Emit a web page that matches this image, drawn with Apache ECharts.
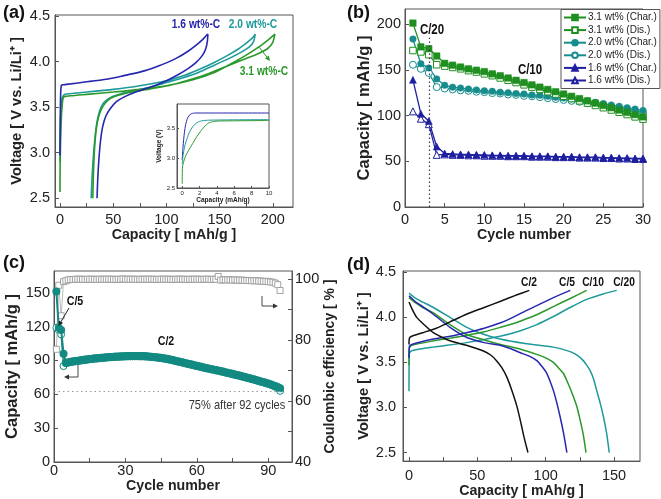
<!DOCTYPE html>
<html><head><meta charset="utf-8">
<script src="https://cdn.jsdelivr.net/npm/echarts@6/dist/echarts.min.js"></script>
<style>html,body{margin:0;padding:0;background:#fff}#c{width:661px;height:499px}</style>
</head><body><div id="c"></div>
<script>
// ---------- Panel (a): voltage profiles [capacity mAh/g, V] ----------
const a16Chg = [[0,2.97],[0.2,3.35],[0.5,3.6],[0.9,3.71],[1.4,3.74],[3,3.745],[10,3.755],[20,3.77],[30,3.785],[40,3.8],[50,3.82],[60,3.845],[70,3.87],[80,3.9],[90,3.94],[100,3.985],[110,4.04],[120,4.11],[128,4.18],[134,4.24],[138,4.29],[139,4.3]];
const a16Dis = [[139,4.3],[138.5,4.22],[137,4.14],[134,4.07],[128,3.99],[120,3.92],[110,3.85],[100,3.79],[90,3.74],[80,3.7],[70,3.66],[60,3.61],[53,3.56],[47,3.48],[43,3.4],[40,3.28],[38,3.12],[36.5,2.92],[35.5,2.72],[34.8,2.5]];
const a20Chg = [[0,2.9],[0.2,3.15],[0.5,3.35],[0.9,3.48],[1.4,3.56],[2,3.6],[3,3.625],[5,3.64],[15,3.655],[25,3.665],[50,3.695],[75,3.735],[100,3.79],[115,3.84],[130,3.91],[145,3.99],[158,4.07],[168,4.14],[176,4.21],[181,4.26],[183.5,4.3]];
const a20Dis = [[183.5,4.3],[182,4.22],[178,4.16],[170,4.1],[160,4.04],[145,3.96],[130,3.88],[115,3.82],[100,3.77],[85,3.72],[70,3.68],[58,3.65],[50,3.62],[44,3.58],[40,3.53],[37,3.45],[34.5,3.32],[32.5,3.12],[31,2.9],[30,2.7],[29.3,2.5]];
const a31Chg = [[0,2.57],[0.1,2.85],[0.5,3.1],[1,3.3],[1.5,3.43],[2,3.51],[2.5,3.57],[3,3.6],[4,3.615],[10,3.625],[25,3.64],[50,3.665],[75,3.695],[100,3.735],[125,3.8],[145,3.88],[160,3.97],[175,4.07],[187,4.16],[196,4.24],[202,4.3]];
const a31Dis = [[202,4.3],[200,4.21],[195,4.14],[185,4.08],[170,4.01],[155,3.94],[140,3.87],[125,3.81],[110,3.76],[95,3.72],[80,3.69],[65,3.66],[55,3.63],[48,3.6],[43,3.55],[39,3.48],[36,3.38],[34,3.25],[32.5,3.05],[31.5,2.8],[30.8,2.5]];
// inset (first mAh/g)
const i16 = [[0,2.97],[0.1,3.2],[0.25,3.42],[0.4,3.56],[0.6,3.66],[0.8,3.71],[1.1,3.74],[1.5,3.75],[3,3.75],[10,3.75]];
const i20 = [[0,2.9],[0.1,3.05],[0.3,3.2],[0.5,3.3],[0.8,3.42],[1.2,3.52],[1.6,3.58],[2,3.61],[2.5,3.625],[3,3.63],[5,3.635],[10,3.64]];
const i31 = [[0,2.57],[0.03,2.85],[0.3,3.0],[0.7,3.12],[1.2,3.24],[1.7,3.36],[2.2,3.46],[2.6,3.53],[3,3.58],[3.5,3.605],[4,3.615],[6,3.62],[10,3.625]];

// ---------- Panel (b): cycling ----------
const cycB = [1,2,3,4,5,6,7,8,9,10,11,12,13,14,15,16,17,18,19,20,21,22,23,24,25,26,27,28,29,30];
const b31Chg = [201,175,173,165,157,155,153,151,149.5,148,145.5,143.5,141,138.5,136,133.5,131,128.5,126,123.5,121,118.5,116,113.5,111,108.5,106,103.5,101,98.5];
const b31Dis = [171,169.5,166.5,155.5,154,152.5,151,149,147.5,145.5,143.5,141,138.5,136,133.5,131,128.5,126,123.5,121,118.5,116,113.5,111,108.5,106,103.5,101,98.5,96];
const b20Chg = [183.5,156.5,152,140,133,131,130,129,128,127,126.5,125.5,125,124,123.5,122.5,122,121,120,119,118,117,116,114.5,113,111.5,110,108.5,107,105.5];
const b20Dis = [155.5,151,146.5,131,129.5,128.5,127.5,127,126,125.5,124.5,124,123,122.5,121.5,121,120,119,118,117,116,115,113.5,112.5,111,109.5,108,106.5,105,103];
const b16Chg = [139,102,94,66,58.5,58,57.5,57.5,57,57,56.5,56.5,56,56,56,55.5,55.5,55.5,55,55,55,54.5,54.5,54.5,54,54,53.5,53.5,53,53];
const b16Dis = [104.5,96.5,90.5,57,57.5,57,57,56.5,56.5,56,56,56,55.5,55.5,55.5,55,55,55,54.5,54.5,54.5,54,54,54,53.5,53.5,53,53,52.5,52.5];
const legendNames = ['3.1 wt% (Char.)','3.1 wt% (Dis.)','2.0 wt% (Char.)','2.0 wt% (Dis.)','1.6 wt% (Char.)','1.6 wt% (Dis.)'];

// ---------- Panel (c): long cycling ----------
const cycC = [1,2,3,4,5,6,7,8,9,10,11,12,13,14,15,16,17,18,19,20,21,22,23,24,25,26,27,28,29,30,31,32,33,34,35,36,37,38,39,40,41,42,43,44,45,46,47,48,49,50,51,52,53,54,55,56,57,58,59,60,61,62,63,64,65,66,67,68,69,70,71,72,73,74,75,76,77,78,79,80,81,82,83,84,85,86,87,88,89,90,91,92,93,94,95];
const cChg = [151,119,117,96,88,88.4,88.8,89.2,89.5,89.8,
 90.1,90.4,90.7,91.0,91.3,91.5,91.8,92.0,92.2,92.4,
 92.6,92.8,93.0,93.1,93.3,93.4,93.5,93.6,93.7,93.8,
 93.9,93.9,94.0,94.0,94.0,93.9,93.9,93.8,93.7,93.5,
 93.3,93.1,92.9,92.6,92.3,92.0,91.6,91.2,90.8,90.3,
 89.8,89.3,88.8,88.3,87.8,87.3,86.8,86.3,85.8,85.3,
 84.8,84.3,83.8,83.3,82.9,82.4,82.0,81.5,81.1,80.6,
 80.1,79.6,79.1,78.6,78.1,77.6,77.1,76.6,76.0,75.5,
 74.9,74.4,73.8,73.2,72.6,72.0,71.4,70.8,70.2,69.5,
 68.8,68.1,67.3,66.4,65.4];
const cDis = [119,117,113,85,87.5,88.0,88.4,88.8,89.1,89.4,
 89.7,90.0,90.3,90.6,90.9,91.1,91.4,91.6,91.8,92.0,
 92.2,92.4,92.6,92.7,92.9,93.0,93.1,93.2,93.3,93.4,
 93.5,93.5,93.6,93.6,93.6,93.5,93.5,93.4,93.3,93.1,
 92.9,92.7,92.5,92.2,91.9,91.6,91.2,90.8,90.4,89.9,
 89.4,88.9,88.4,87.9,87.4,86.9,86.4,85.9,85.4,84.9,
 84.4,83.9,83.4,82.9,82.5,82.0,81.6,81.1,80.7,80.2,
 79.7,79.2,78.7,78.2,77.7,77.2,76.7,76.2,75.6,75.1,
 74.5,74.0,73.4,72.8,72.2,71.6,71.0,70.4,69.8,69.1,
 68.4,67.6,66.6,65.2,63.0];
const cCE = [77,98,88,99.2,99.5,99.8,99.9,99.9,100,100,
 100,100,99.9,100,100,100,100,99.9,100,100,
 100,100,100,100,100,99.9,100,100,100.1,100,
 100,100,100,100,99.9,100,100,100,100,100,
 100,100,99.9,100,100,100,100,100,100,99.9,
 100,100,100,100,100,99.9,100,100,100,100,
 100,99.9,100,100,100,99.9,100,100,100.9,99.7,
 99.8,99.8,99.8,99.8,99.7,99.8,99.7,99.7,99.7,99.6,
 99.6,99.6,99.5,99.5,99.5,99.4,99.4,99.3,99.3,99.2,
 99.1,99.0,98.7,98.2,96.3];

// ---------- Panel (d): rate profiles ----------
const dC2Chg = [[0,3.7],[0.3,3.77],[2,3.79],[10,3.83],[20,3.88],[30,3.95],[42,4.035],[55,4.11],[67,4.18],[78,4.245],[88,4.3]];
const dC2Dis = [[0,4.17],[2,4.1],[5.6,4.0],[11.7,3.91],[17.8,3.83],[24,3.78],[30,3.74],[42,3.69],[54,3.63],[60,3.58],[64,3.52],[68,3.44],[71.5,3.34],[75,3.2],[79,3.01],[82,2.82],[84,2.68],[87,2.5]];
const dC5Chg = [[0,3.55],[0.3,3.68],[2,3.7],[18,3.76],[30,3.79],[42,3.83],[55,3.88],[67,3.94],[76,4.0],[85,4.07],[93.5,4.13],[105.6,4.22],[118,4.3]];
const dC5Dis = [[0,4.24],[5,4.17],[10,4.12],[17.8,4.035],[30,3.89],[42,3.78],[55,3.72],[66.6,3.69],[75,3.65],[81,3.61],[88,3.57],[93.5,3.52],[97,3.46],[100.8,3.38],[103,3.3],[105.6,3.19],[108,3.06],[110.5,2.9],[113,2.72],[115.5,2.5]];
const dC10Chg = [[0,3.47],[0.3,3.66],[2,3.69],[18,3.74],[30,3.77],[42,3.8],[55,3.84],[67,3.89],[76,3.93],[85,3.98],[93.5,4.03],[105.6,4.12],[117.9,4.21],[130,4.3]];
const dC10Dis = [[0,4.22],[5,4.16],[10,4.11],[17.8,4.05],[30,3.92],[42,3.81],[55,3.75],[67,3.7],[81,3.65],[93.5,3.59],[100,3.55],[105.6,3.5],[110,3.43],[112.9,3.38],[116,3.28],[120.3,3.12],[123,3.0],[125.2,2.86],[127.5,2.7],[129.5,2.5]];
const dC20Chg = [[0,3.18],[0.2,3.6],[2,3.63],[17.8,3.67],[42,3.72],[66.6,3.79],[81,3.85],[93.5,3.92],[105.6,4.01],[117.9,4.11],[130,4.2],[142,4.26],[152,4.3]];
const dC20Dis = [[0,4.27],[5,4.21],[10,4.17],[17.8,4.11],[30,4.0],[42.2,3.89],[55,3.81],[66.6,3.76],[84.9,3.71],[105.6,3.67],[117.9,3.62],[123,3.58],[127.5,3.52],[130,3.47],[132.5,3.41],[135,3.32],[137.3,3.19],[140,3.04],[142.2,2.9],[144.5,2.72],[146.5,2.5]];

// ---------- styling ----------
const FF = "'Liberation Sans',Arial,Helvetica,sans-serif";
const AX = '#555';
const BLUE = '#2626ae', TEAL = '#1f9a9a', GREEN = '#2a982a';
const BBLUE = '#1e1ea0', BTEAL = '#178c8c', BGREEN = '#1f8f1f';
const CTEAL = '#128a82';
const f1 = v => v.toFixed(1);
const f0 = v => String(v);

function vAxis(g, min, max, labs, ticks, fmt, name, gap, o) {
  o = o || {};
  return {
    type: 'value', gridIndex: g, min: min, max: max, position: o.position,
    axisLine: {show: true, onZero: false, lineStyle: {color: AX, width: 1}},
    axisTick: {show: true, inside: true, length: o.tl || 4, customValues: ticks, lineStyle: {color: AX}},
    axisLabel: {customValues: labs, formatter: fmt, margin: (o.margin != null ? o.margin : 5), color: '#222',
      fontFamily: FF, fontSize: o.fs || 14.5, fontWeight: 'normal'},
    splitLine: {show: false},
    name: name, nameLocation: 'middle', nameGap: gap, nameRotate: o.rot,
    nameTextStyle: {fontFamily: FF, fontWeight: 'bold', fontSize: o.nfs || 14.2, color: '#222'}
  };
}
function line(name, xi, yi, data, color, w) {
  return {type: 'line', name: name, xAxisIndex: xi, yAxisIndex: yi, data: data,
    showSymbol: false, symbol: 'none', smooth: 0.2, lineStyle: {color: color, width: w}, itemStyle: {color: color},
    silent: true, z: 3};
}
function mk(name, xs, ys, color, sym, size, open) {
  return {type: 'line', name: name, xAxisIndex: 2, yAxisIndex: 2,
    data: xs.map((x, i) => [x, ys[i]]), symbol: sym, symbolSize: size, showSymbol: true,
    lineStyle: {color: color, width: 1.3},
    itemStyle: open ? {color: '#fff', borderColor: color, borderWidth: 1} : {color: color, borderColor: color, borderWidth: 0.5},
    z: 3};
}
function txt(x, y, s, color, size, weight, sx, align) {
  return {type: 'text', x: x, y: y, z: 50, scaleX: (sx == null ? 0.82 : sx), style: {text: s, fill: color,
    font: (weight || 'bold') + ' ' + size + 'px ' + FF, align: align || 'center', verticalAlign: 'middle'}};
}
function arrow(x1, y1, x2, y2, color) {
  const a = Math.atan2(y2 - y1, x2 - x1), L = 5, W = 2.4;
  const bx = x2 - L * Math.cos(a), by = y2 - L * Math.sin(a);
  return [
    {type: 'line', z: 50, shape: {x1: x1, y1: y1, x2: bx, y2: by}, style: {stroke: color, lineWidth: 1}},
    {type: 'polygon', z: 50, shape: {points: [[x2, y2], [bx + W * Math.sin(a), by - W * Math.cos(a)], [bx - W * Math.sin(a), by + W * Math.cos(a)]]}, style: {fill: color}}
  ];
}

const grids = [
  {left: 55, top: 15, width: 238, height: 192},     // a
  {left: 177, top: 104, width: 92, height: 84},     // inset
  {left: 405, top: 9, width: 238, height: 198},     // b
  {left: 54, top: 271, width: 238, height: 191},    // c
  {left: 403, top: 271, width: 237, height: 192}    // d
].map(g => Object.assign({show: true, borderColor: AX, borderWidth: 1, backgroundColor: 'rgba(0,0,0,0)', containLabel: false}, g));

const xAxes = [
  vAxis(0, -4.7, 219, [0,50,100,150,200], [0,25,50,75,100,125,150,175,200], f0, 'Capacity [ mAh/g ]', 18.5, {margin: 5}),
  vAxis(1, -0.6, 10, [0,2,4,6,8,10], [0,2,4,6,8,10], f0, 'Capacity (mAh/g)', 7, {margin: 2, fs: 6, nfs: 6.5, tl: 2}),
  vAxis(2, 0, 30, [0,5,10,15,20,25,30], [0,5,10,15,20,25,30], f0, 'Cycle number', 18.5, {margin: 5}),
  vAxis(3, 0, 100, [0,30,60,90], [0,15,30,45,60,75,90], f0, 'Cycle number', 12, {margin: 1}),
  vAxis(4, -4.4, 169, [0,50,100,150], [0,25,50,75,100,125,150], f0, 'Capacity [ mAh/g ]', 18.5, {margin: 7})
];
const yAxes = [
  vAxis(0, 2.405, 4.51, [2.5,3,3.5,4,4.5], [2.5,3,3.5,4,4.5], f1, 'Voltage [ V vs. Li/Li\u207A ]', 30.5, {margin: 5, nfs: 14.7}),
  vAxis(1, 2.5, 3.9, [2.5,3,3.5], [2.5,3,3.5], f1, 'Voltage (V)', 14, {margin: 2, fs: 6, nfs: 6.5, tl: 2}),
  vAxis(2, 0, 216.4, [0,50,100,150,200], [0,50,100,150,200], f0, 'Capacity [ mAh/g ]', 30, {margin: 4, nfs: 16.5}),
  vAxis(3, 0, 169.2, [0,30,60,90,120,150], [0,30,60,90,120,150], f0, 'Capacity [ mAh/g ]', 33, {margin: 4, nfs: 16.5}),
  vAxis(3, 40, 102.7, [40,60,80,100], [40,50,60,70,80,90,100], f0, 'Coulombic efficiency [ % ]', 31, {margin: 3, position: 'right', rot: 90, nfs: 14}),
  vAxis(4, 2.405, 4.515, [2.5,3,3.5,4,4.5], [2.5,3,3.5,4,4.5], f1, 'Voltage [ V vs. Li/Li\u207A ]', 28, {margin: 7, nfs: 14.7})
];

const series = [
  // (a)
  line('', 0, 0, a20Chg.concat(a20Dis), TEAL, 1.6),
  line('', 0, 0, a31Chg.concat(a31Dis), GREEN, 1.6),
  line('', 0, 0, a16Chg.concat(a16Dis), BLUE, 1.6),
  // inset
  line('', 1, 1, i16, BLUE, 1),
  line('', 1, 1, i20, TEAL, 1),
  line('', 1, 1, i31, GREEN, 1),
  // (b)
  mk(legendNames[5], cycB, b16Dis, BBLUE, 'triangle', 7, true),
  mk(legendNames[4], cycB, b16Chg, BBLUE, 'triangle', 7, false),
  mk(legendNames[3], cycB, b20Dis, BTEAL, 'circle', 7, true),
  mk(legendNames[2], cycB, b20Chg, BTEAL, 'circle', 6.5, false),
  mk(legendNames[1], cycB, b31Dis, BGREEN, 'rect', 6.5, true),
  Object.assign(mk(legendNames[0], cycB, b31Chg, BGREEN, 'rect', 6.5, false), {
    markLine: {silent: true, symbol: 'none', label: {show: false}, animation: false,
      lineStyle: {type: [1.5, 2.5], color: '#33335a', width: 1.2},
      data: [[{coord: [3, 0]}, {coord: [3, 185]}]]}
  }),
  // (c)
  {type: 'line', name: 'CE', xAxisIndex: 3, yAxisIndex: 4, data: cycC.map((x, i) => [x, cCE[i]]),
   symbol: 'rect', symbolSize: 6, lineStyle: {color: '#aaa', width: 0.8},
   itemStyle: {color: '#fff', borderColor: '#9a9a9a', borderWidth: 0.9}, z: 2},
  {type: 'line', name: 'cdis', xAxisIndex: 3, yAxisIndex: 3, data: cycC.map((x, i) => [x, cDis[i]]),
   symbol: 'circle', symbolSize: 7, lineStyle: {color: CTEAL, width: 1.5},
   itemStyle: {color: '#fff', borderColor: CTEAL, borderWidth: 1}, z: 3},
  {type: 'line', name: 'cchg', xAxisIndex: 3, yAxisIndex: 3, data: cycC.map((x, i) => [x, cChg[i]]),
   symbol: 'circle', symbolSize: 8, lineStyle: {color: CTEAL, width: 2},
   itemStyle: {color: CTEAL}, z: 4,
   markLine: {silent: true, symbol: 'none', label: {show: false}, animation: false,
     lineStyle: {type: [1.5, 3], color: '#999', width: 1.2},
     data: [[{coord: [0, 63]}, {coord: [96, 63]}]]}},
  // (d)
  line('', 4, 5, dC20Chg, TEAL, 1.5), line('', 4, 5, dC20Dis, TEAL, 1.5),
  line('', 4, 5, dC10Chg, GREEN, 1.5), line('', 4, 5, dC10Dis, GREEN, 1.5),
  line('', 4, 5, dC5Chg, BLUE, 1.5), line('', 4, 5, dC5Dis, BLUE, 1.5),
  line('', 4, 5, dC2Chg, '#111', 1.5), line('', 4, 5, dC2Dis, '#111', 1.5)
];

const graphics = [
  txt(3, 13, '(a)', '#111', 18, 'bold', 1, 'left'),
  txt(347, 13, '(b)', '#111', 18, 'bold', 1, 'left'),
  txt(3, 263, '(c)', '#111', 18, 'bold', 1, 'left'),
  txt(347, 265, '(d)', '#111', 18, 'bold', 1, 'left'),
  txt(196, 25, '1.6 wt%-C', BLUE, 12.5),
  txt(253, 25, '2.0 wt%-C', TEAL, 12.5),
  txt(264, 72, '3.1 wt%-C', GREEN, 12.5),
  ...arrow(259, 47, 270, 61, GREEN),
  txt(432, 30, 'C/20', '#111', 14),
  txt(530, 70, 'C/10', '#111', 14),
  txt(75, 301, 'C/5', '#111', 13),
  ...arrow(69, 308, 58.5, 326, '#222'),
  txt(166, 341, 'C/2', '#111', 13),
  txt(237, 405, '75% after 92 cycles', '#333', 13.5, 'normal'),
  {type: 'polyline', z: 50, shape: {points: [[78, 365], [78, 377], [70, 377]]}, style: {stroke: '#333', lineWidth: 0.9, fill: null}},
  ...arrow(70, 377, 64, 377, '#333'),
  {type: 'polyline', z: 50, shape: {points: [[262, 296], [262, 306], [272, 306]]}, style: {stroke: '#333', lineWidth: 0.9, fill: null}},
  ...arrow(272, 306, 278, 306, '#333'),
  txt(529, 283, 'C/2', '#111', 12.5),
  txt(567, 283, 'C/5', '#111', 12.5),
  txt(593, 283, 'C/10', '#111', 12.5),
  txt(624, 283, 'C/20', '#111', 12.5)
];

const chart = echarts.init(document.getElementById('c'), null, {renderer: 'canvas'});
chart.setOption({
  animation: false,
  backgroundColor: '#fff',
  grid: grids,
  xAxis: xAxes,
  yAxis: yAxes,
  legend: {
    data: legendNames, orient: 'vertical', left: 561, top: 9.5,
    itemWidth: 22, itemHeight: 7, itemGap: 0.6, padding: [2, 3, 2, 2],
    borderColor: AX, borderWidth: 1, backgroundColor: '#fff', borderRadius: 0,
    textStyle: {fontFamily: FF, fontSize: 10, color: '#222', lineHeight: 12, padding: [0, 0, 0, -3]},
    selectedMode: false, z: 20
  },
  series: series,
  graphic: graphics
});
</script></body></html>
